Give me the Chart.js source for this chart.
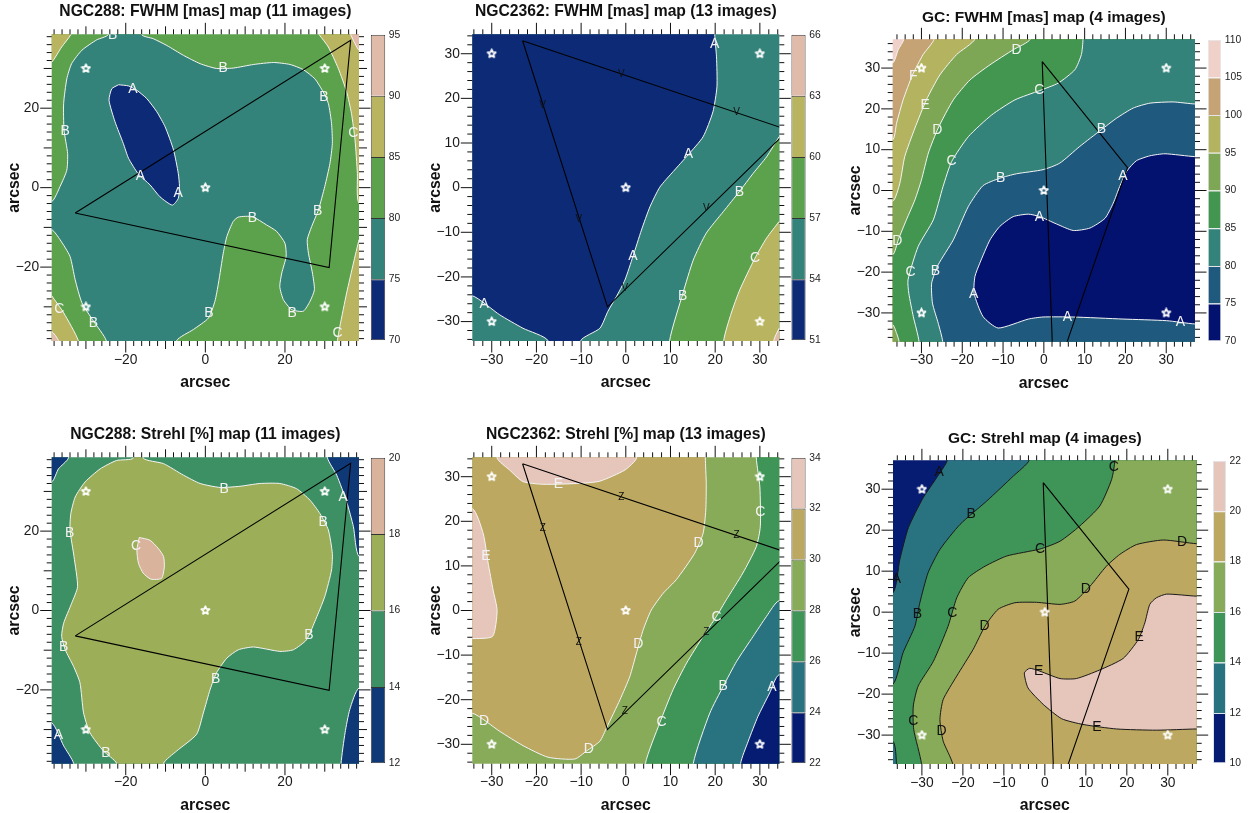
<!DOCTYPE html>
<html>
<head>
<meta charset="utf-8">
<title>FWHM and Strehl maps</title>
<style>
  html, body { margin: 0; background: #fff; overflow: hidden; }
  canvas { position: absolute; }
</style>
<script src="https://cdn.jsdelivr.net/npm/chart.js@4"></script>
</head>
<body>
<script>
// off-plot points (+-45) just close the shapes, the scales clip them away
const fullField = [[-45,-45],[45,-45],[45,45],[-45,45]];

// common
const starX = [-30, 30, -30, 30, 0];
const starY = [30, 30, -30, -30, 0];
const triangle288 = [[-32.7,-6.4],[36.5,37.1],[31.1,-20.1]];
const triangle2362 = [[-23.1,32.9],[36.4,12.9],[-4.1,-26.7]];
const triangleGC = [[-0.4,31.6],[20.5,5.6],[2.4,-46.6]];

// NGC288 FWHM
const fwhm288Levels = [70, 75, 80, 85, 90, 95];
const fwhm288Ticks = [-20, 0, 20];
const fwhm288OliveTL = [[-45,27],[-38.6,31.6],[-36.1,35.4],[-33.8,38.5],[-31,45],[-45,45]];
const fwhm288OliveTR = [[28.6,38.5],[30.9,35.4],[33.4,30],[35.5,24.1],[36.7,18.7],[37.6,12],[38.2,3.6],[38.6,-3.9],[45,-4],[45,45],[28,45]];
const fwhm288OliveBR = [[38.6,-13.1],[37.2,-19],[35.5,-26.5],[33.8,-34.9],[33.2,-38.5],[33,-45],[45,-45],[45,-13]];
const fwhm288OliveBL = [[-38.6,-27.2],[-35.6,-31.5],[-31.9,-38.5],[-31,-45],[-45,-45],[-45,-27]];
const fwhm288PinkTR = [[36.5,38.5],[38.6,34.6],[45,30],[45,45],[36,45]];
const fwhm288PinkBL = [[-45,-33],[-38.6,-36.2],[-36.9,-38.5],[-36,-45],[-45,-45]];
const fwhm288Teal = [[-24,45],[-24.4,38.5],[-27.3,37.2],[-31,34.6],[-33.6,31.2],[-34.8,27.4],[-35.6,21.2],[-35.5,14.5],[-34.6,8.6],[-34.8,4.4],[-36.5,0.3],[-38.6,-3.5],[-45,-3.5],[-45,-10.5],[-38.6,-10.6],[-36.5,-13.1],[-34,-17.3],[-32.7,-23.2],[-31,-29],[-28.1,-33.6],[-24.9,-38.5],[-24.9,-45],[-7.2,-45],[-7.2,-38.5],[-3,-35.7],[0.8,-32.8],[2.4,-28.6],[3.3,-24],[4.5,-16.5],[5.4,-12.3],[7,-8.5],[8.3,-7.4],[11.8,-7.3],[15.4,-9.4],[17.9,-11],[20,-14],[20.3,-17.3],[19.2,-21.5],[18.7,-24.9],[19.6,-28.2],[21.7,-30.7],[24.6,-31.1],[26.3,-28.6],[27.4,-25.7],[26.9,-21.5],[25.9,-16.5],[25.6,-13.1],[26.7,-9.8],[28.4,-5.6],[30,0.3],[31.3,6.1],[31.9,11.1],[31.7,16.2],[30.9,21.2],[29.6,24.1],[27.5,27.4],[24.6,29.7],[21.3,31],[17.1,31.5],[12.1,31],[7,30.1],[2.8,30],[-1.3,31.2],[-5.5,33.3],[-9.7,35.8],[-13.1,37.5],[-16,38.5],[-16,45]];
const fwhm288Navy = [[-21.8,25.9],[-23.5,24.9],[-24.2,22],[-22.7,16.6],[-20.6,11.1],[-19.3,7.4],[-16.8,3.4],[-13.9,0.7],[-11.4,-2.3],[-8.3,-4.4],[-6.8,-2.7],[-6.5,0.3],[-6.8,3.6],[-8,9.5],[-10.1,15.3],[-12.2,19.1],[-14.7,22.4],[-17.2,24.5],[-19.3,25.6]];
const fwhm288Labels = [["B",-23.3,38.3],["B",4.5,30],["B",29.8,22.7],["B",-35.2,14.2],["A",-18.2,24.7],["A",-16.3,2.8],["A",-6.8,-1.4],["C",37.2,13.6],["B",28.2,-5.9],["B",11.8,-7.7],["B",0.9,-31.7],["B",21.8,-31.5],["B",-28.1,-34.1],["C",-36.7,-30.5],["C",33.2,-36.7]];

// NGC2362 FWHM
const fwhm2362Levels = [51, 54, 57, 60, 63, 66];
const fwhm2362Ticks = [-30, -20, -10, 0, 10, 20, 30];
const fwhm2362Navy = [[19.9,45],[19.9,34.3],[20.3,29.3],[20.4,22.6],[19.5,17],[17.3,11.4],[13.9,7.3],[10.6,3.6],[7.6,0.1],[5.4,-4.3],[3.5,-9.5],[1.6,-15.4],[-0.2,-20.7],[-2.1,-24.4],[-4,-27.7],[-5.8,-31.5],[-10.1,-34.3],[-10.1,-45],[-17.4,-45],[-17.4,-34.3],[-23,-31.5],[-28.2,-28.5],[-34.4,-24.2],[-45,-24],[-45,45]];
const fwhm2362Green = [[34.3,11.4],[31.5,6.9],[28.5,3.2],[25.4,-0.9],[21.8,-5.4],[18,-10.2],[15.1,-16.2],[12.8,-23.6],[9.8,-34.3],[9.8,-45],[45,-45],[45,11.4]];
const fwhm2362Olive = [[34.3,-7.6],[31.5,-11.3],[28.9,-15.8],[25.5,-22.9],[23.6,-28.1],[21.9,-34.3],[21.9,-45],[45,-45],[45,-7.6]];
const fwhm2362Pink = [[34.3,-31.5],[33.1,-34.3],[33.1,-45],[45,-45],[45,-31.5]];
const fwhm2362Labels = [["A",19.9,32.1],["A",14,7.5],["A",1.6,-15.4],["A",-31.7,-26.2],["B",25.4,-1],["B",12.7,-24.2],["C",28.9,-15.7]];
const fwhm2362SmallLabels = [["V",-1,25.4],["V",-18.6,18.5],["V",24.8,16.9],["V",-10.5,-7],["V",18,-4.6],["V",-0.2,-22.6]];

// GC FWHM
const fwhmGCLevels = [70, 75, 80, 85, 90, 95, 100, 105, 110];
const fwhmGCTicks = [-30, -20, -10, 0, 10, 20, 30];
const fwhmGCbelow105 = [[-34.3,45],[-34.3,37.1],[-35.7,34.5],[-37.1,31.2],[-45,31.2],[-45,-45],[45,-45],[45,45]];
const fwhmGCbelow100 = [[-26.9,45],[-26.9,37.1],[-29.6,33.3],[-32.2,28.3],[-34.5,22.2],[-36.1,16.5],[-37.1,12.4],[-45,12.4],[-45,-45],[45,-45],[45,45]];
const fwhmGCbelow95 = [[-16.9,45],[-16.9,37.1],[-21.4,33.3],[-25.5,28.3],[-28.8,22.2],[-31.6,15.3],[-34.1,8.3],[-35.3,1.8],[-37.1,-2.7],[-45,-2.7],[-45,-45],[45,-45],[45,45]];
const fwhmGCbelow90 = [[-3.3,45],[-3.3,37.1],[-7.5,34.5],[-13.2,30.8],[-18.1,27.1],[-22.2,22.2],[-25.9,15.3],[-28.3,9.2],[-30,2.6],[-31.6,-2.3],[-33.7,-7.2],[-35.7,-12.1],[-37.1,-15.8],[-45,-16],[-45,-32.9],[-37.1,-32.9],[-36.1,-35],[-35.5,-37],[-35.5,-45],[45,-45],[45,45]];
const fwhmGCbelow85 = [[9.6,45],[9.6,37.1],[9.2,33.3],[7.6,29.6],[3.5,26.3],[-1,24.5],[-7.1,22.2],[-12.8,18.5],[-18.5,13.2],[-22.6,7.1],[-24.7,1],[-27.1,-7.2],[-30.8,-13.7],[-33.3,-21.9],[-33.1,-25.2],[-32,-30.9],[-30.6,-37],[-30.6,-45],[45,-45],[45,45]];
const fwhmGCbelow80 = [[45,21.2],[37,21.2],[31.7,21.7],[26,21.4],[21.9,20.2],[17.8,17.7],[14.1,14.9],[8.8,10.8],[3.9,6.7],[-0.2,5.1],[-6.7,4.1],[-10.8,3],[-14.9,1.2],[-18.5,-3.9],[-22.2,-12.1],[-25.9,-18.2],[-27.5,-22.7],[-27.3,-27.6],[-25.9,-32.5],[-24.8,-37],[-24.8,-45],[45,-45]];
const fwhmGCbelow75 = [[45,8.3],[37,8.3],[29.7,9],[26,8.5],[22.7,7.3],[20.3,4.7],[18.6,1],[17,-3.1],[15,-6.8],[11.3,-9.2],[7.2,-9.8],[3.1,-8.2],[-1,-6.4],[-3.8,-5.8],[-7.5,-6.4],[-10.8,-8.8],[-13.2,-12.1],[-15.7,-17.8],[-16.9,-21.1],[-17.1,-25.2],[-14.9,-30.9],[-11.2,-33.7],[-3.8,-31.5],[-0.2,-31],[7.2,-31],[19.4,-31.5],[30.1,-31.9],[37,-32.7],[45,-32.7]];
const fwhmGCLabels = [["F",-32,28.1],["E",-29.1,20.9],["D",-26.1,14.9],["D",-6.7,34.5],["D",-35.9,-12.3],["C",-1.1,24.5],["C",-22.6,7.3],["C",-32.7,-20],["B",14.1,15.1],["B",-10.6,3],["B",-26.6,-19.7],["A",19.4,3.6],["A",-1.1,-6.5],["A",-17.2,-25.4],["A",5.8,-31.1],["A",33.5,-32.3]];

// NGC288 Strehl
const strehl288Levels = [12, 14, 16, 18, 20];
const strehl288NavyTL = [[-34.4,45],[-34.4,38.4],[-36.9,35.7],[-38.6,32.4],[-45,32.4],[-45,45]];
const strehl288NavyTR = [[30.7,45],[30.7,38.4],[33,34.1],[35.5,27.4],[37.2,21.1],[38.6,13.6],[45,13.6],[45,45]];
const strehl288NavyBR = [[45,-19.5],[38.6,-19.5],[36.3,-24.9],[35.1,-30.8],[34.1,-38.5],[34.1,-45],[45,-45]];
const strehl288NavyBL = [[-45,-28.3],[-38.6,-28.3],[-35.6,-34.1],[-33.1,-38.5],[-33.1,-45],[-45,-45]];
const strehl288Olive = [[-18.1,45],[-18.1,38.4],[-22.3,37.8],[-26.4,35.7],[-30.2,32.4],[-32.7,28.6],[-33.8,24.4],[-34,20.3],[-33,13.6],[-32.1,6],[-33.6,1.8],[-35.6,-3.2],[-36.1,-6.5],[-35.2,-9.9],[-33.1,-14.1],[-31.5,-18.2],[-30.6,-25.8],[-29,-30.8],[-25.6,-35.4],[-22.3,-38.5],[-22.3,-45],[-10.5,-45],[-10.5,-38.5],[-7.2,-35.4],[-2.2,-31.2],[-0.5,-25.8],[1.2,-19.9],[2.8,-15.7],[5.4,-12],[8.3,-9.9],[12.1,-9.2],[18.7,-10.3],[22.1,-9.9],[25.4,-7.4],[27.5,-2.8],[30,3.5],[31.7,10.2],[31.9,14.4],[30.9,20.3],[28.8,24.4],[26.3,27.8],[22.9,30.7],[18.7,32],[13.7,32],[8.7,31.3],[3.7,31],[-1.3,32],[-5.5,34.1],[-10.5,37],[-15.6,38.4],[-15.6,45]];
const strehl288Pink = [[-16.6,18.4],[-13.9,17.7],[-11.8,15.6],[-10.5,13.6],[-10.3,11],[-11,8.1],[-13.7,7.9],[-15.6,9.4],[-16.8,11.9],[-17.2,15.2]];
const strehl288Labels = [["B",4.7,30.7],["B",29.6,22.2],["B",-34.1,19.4],["A",34.6,28.6],["C",-17.4,16.3],["B",26,-6.1],["B",-35.6,-9.3],["B",2.6,-17.4],["A",-36.9,-31.5],["B",-25,-36]];

// NGC2362 Strehl
const strehl2362Levels = [22, 24, 26, 28, 30, 32, 34];
const strehl2362PinkTop = [[-28.8,45],[-28.8,34.2],[-26,31.5],[-23,28.9],[-18.5,28.3],[-10.3,28.5],[-5.8,29],[-0.2,31.5],[2.4,34.2],[2.4,45]];
const strehl2362PinkLeft = [[-45,22.9],[-34.4,22.9],[-31.9,17.2],[-30.8,10.6],[-29.7,4.6],[-28.8,0],[-29.8,-5.8],[-34.4,-6.3],[-45,-6.3]];
const strehl2362Tan = [[17.8,45],[17.8,34.2],[18,28.5],[17.9,22.5],[17.3,17.3],[15.4,12.8],[11.3,6.9],[8.4,3.9],[5.7,0.1],[3.9,-4.3],[2.4,-9.5],[0.9,-14.8],[-1.3,-20],[-4.3,-26.3],[-5.8,-29.3],[-8.8,-31.5],[-11.4,-33.3],[-17.4,-32.9],[-23,-30.3],[-28.2,-27.1],[-34.4,-23],[-45,-23],[-45,45]];
const strehl2362Green = [[29.2,45],[29.2,34.2],[30,27.7],[30.1,18.8],[29.2,14.3],[26.2,8.4],[22.5,2.4],[20.3,-1.3],[17.3,-5.8],[13.6,-11.8],[10.6,-17.7],[7.6,-25.2],[4.4,-34.3],[4.4,-45],[45,-45],[45,45]];
const strehl2362Teal = [[45,2.2],[34.3,2.2],[31.5,-1.3],[28.5,-5.8],[24.8,-11.4],[21.8,-17],[18.8,-23],[15.1,-34.3],[15.1,-45],[45,-45]];
const strehl2362Navy = [[45,-14.4],[34.3,-14.4],[32.2,-18.5],[29.6,-23.7],[27.4,-29.3],[25.7,-34.3],[25.7,-45],[45,-45]];
const strehl2362Labels = [["E",-15.1,28.3],["E",-31.3,12.1],["D",16.3,15.1],["D",2.8,-7.5],["D",-31.7,-24.8],["D",-8.3,-31],["C",30.1,22.1],["C",20.3,-1.5],["C",8,-25],["B",21.8,-17],["A",32.7,-17.2]];
const strehl2362SmallLabels = [["Z",-1,25.3],["Z",-18.6,18.5],["Z",24.8,16.9],["Z",-10.5,-7.2],["Z",18,-4.8],["Z",-0.2,-22.6]];

// GC Strehl
const strehlGCLevels = [10, 12, 14, 16, 18, 20, 22];
const strehlGCabove12 = [[-23.8,45],[-23.8,37.1],[-26.4,32.8],[-29.7,27.9],[-33.3,20.6],[-35.4,12.8],[-37.1,4.7],[-45,4.7],[-45,-45],[45,-45],[45,45]];
const strehlGCabove14 = [[-3.8,45],[-3.8,37.1],[-7.7,33.2],[-14.2,27.1],[-20.7,21.4],[-25.6,15.3],[-28.5,9.6],[-30.5,2.3],[-31.7,-3.4],[-34.6,-9.9],[-37.1,-17.6],[-45,-17.6],[-45,-45],[45,-45],[45,45]];
const strehlGCpocket = [[-45,-31.5],[-37.1,-31.5],[-36.2,-37],[-36.2,-45],[-45,-45]];
const strehlGCabove16 = [[17.1,45],[17.1,37.1],[16.3,32.4],[13.4,25.9],[8.5,21],[3.7,17.3],[-1.2,15.4],[-9.3,13.7],[-14.6,11.2],[-18.7,8.4],[-21.5,3.5],[-23.6,-3.4],[-27.2,-12],[-30.9,-18],[-32.1,-22.9],[-32,-28.6],[-30.1,-37],[-30.1,-45],[45,-45],[45,45]];
const strehlGCabove18 = [[45,16.7],[37,16.7],[28.9,17.6],[22.4,16.5],[18.3,14.1],[15,11.2],[11,6.3],[7.3,2.7],[3.7,1.9],[-2,2.4],[-7.3,2.3],[-11.4,0.7],[-14.6,-3.4],[-17.5,-9.1],[-21.5,-15.6],[-24.8,-21.3],[-25.6,-26.2],[-24.8,-31.5],[-22.5,-37],[-22.5,-45],[45,-45]];
const strehlGCabove20 = [[45,3.9],[37,3.9],[29.7,4.4],[27.2,3.5],[25.6,1.9],[24.4,-2.6],[22.8,-6.7],[19.1,-11.3],[13.4,-14.1],[7.7,-16.2],[3.7,-16.2],[-1.2,-14.4],[-3.7,-13.7],[-5,-14.8],[-4.1,-18.5],[-0.4,-22.5],[4.1,-26],[9.3,-27.4],[17.5,-28.5],[27.2,-28.8],[37,-28.5],[45,-28.5]];
const strehlGCLabels = [["A",-25.8,34.1],["A",-36.2,8.1],["B",-18,24],["B",-31.1,-0.4],["C",16.8,35.4],["C",-1.2,15.4],["C",-22.6,-0.2],["C",-32.1,-26.7],["D",33.5,17.2],["D",10,5.5],["D",-14.7,-3.3],["D",-25.2,-29],["E",23,-6.1],["E",-1.5,-14.4],["E",12.7,-28]];

// colours, low band first
const colorsA = ["#0c2a76", "#33837a", "#5ca24c", "#b8b45f", "#e0bbaa"];
const colorsB = ["#0f3877", "#3d8f64", "#9cae58", "#dab39c"];
const colorsC = ["#061c72", "#297381", "#3f9558", "#87ab58", "#bca860", "#e6c6bb"];
const colorsD = ["#04126f", "#1f597e", "#33837a", "#42964f", "#7da655", "#b4b35f", "#c6a374", "#efd1ca"];

const panels = [
  { title: "NGC288: FWHM [mas] map (11 images)", fs: 15.7, gap: 12.9,
    box: [51.7, 359, 34.3, 341], key: [370.7, 385.3, 34.3, 341], limit: 38.6, tickLimit: 38, ticks: fwhm288Ticks,
    medium: true, levels: fwhm288Levels, colors: colorsA, ink: "#fff", keyLine: "#333", triangle: triangle288,
    layers: [[2, fullField], [3, fwhm288OliveTL], [3, fwhm288OliveTR], [3, fwhm288OliveBR], [3, fwhm288OliveBL],
      [4, fwhm288PinkTR], [4, fwhm288PinkBL], [1, fwhm288Teal], [0, fwhm288Navy]],
    labels: fwhm288Labels, small: [] },
  { title: "NGC2362: FWHM [mas] map (13 images)", fs: 15.7, gap: 12.9,
    box: [472.3, 779.3, 34.3, 341], key: [791.3, 805.7, 34.3, 341], limit: 34.35, tickLimit: 34, ticks: fwhm2362Ticks,
    levels: fwhm2362Levels, colors: colorsA, ink: "#fff", keyLine: "#333", triangle: triangle2362,
    layers: [[1, fullField], [0, fwhm2362Navy], [2, fwhm2362Green], [3, fwhm2362Olive], [4, fwhm2362Pink]],
    labels: fwhm2362Labels, small: fwhm2362SmallLabels },
  { title: "GC: FWHM [mas] map (4 images)", fs: 15.5, gap: 12.3,
    box: [892.7, 1195, 39.3, 341.7], key: [1207.7, 1221.3, 39.3, 341.7], limit: 37.05, tickLimit: 36, ticks: fwhmGCTicks,
    levels: fwhmGCLevels, colors: colorsD, ink: "#fff", keyLine: "#e4e4ea", triangle: triangleGC,
    layers: [[7, fullField], [6, fwhmGCbelow105], [5, fwhmGCbelow100], [4, fwhmGCbelow95], [3, fwhmGCbelow90],
      [2, fwhmGCbelow85], [1, fwhmGCbelow80], [0, fwhmGCbelow75]],
    labels: fwhmGCLabels, small: [] },
  { title: "NGC288: Strehl [%] map (11 images)", fs: 15.7, gap: 13,
    box: [51.7, 359, 457.3, 763.7], key: [370.7, 385.3, 457.3, 763.7], limit: 38.6, tickLimit: 38, ticks: fwhm288Ticks,
    medium: true, levels: strehl288Levels, colors: colorsB, ink: "#fff", keyLine: "#333", triangle: triangle288,
    layers: [[1, fullField], [0, strehl288NavyTL], [0, strehl288NavyTR], [0, strehl288NavyBR], [0, strehl288NavyBL],
      [2, strehl288Olive], [3, strehl288Pink]],
    labels: strehl288Labels, small: [] },
  { title: "NGC2362: Strehl [%] map (13 images)", fs: 15.7, gap: 13,
    box: [472.3, 779.3, 457.3, 763.7], key: [791.3, 805.7, 457.3, 763.7], limit: 34.35, tickLimit: 34, ticks: fwhm2362Ticks,
    levels: strehl2362Levels, colors: colorsC, ink: "#fff", keyLine: "#333", triangle: triangle2362,
    layers: [[3, fullField], [4, strehl2362Tan], [5, strehl2362PinkTop], [5, strehl2362PinkLeft],
      [2, strehl2362Green], [1, strehl2362Teal], [0, strehl2362Navy]],
    labels: strehl2362Labels, small: strehl2362SmallLabels },
  { title: "GC: Strehl map (4 images)", fs: 15.5, gap: 12.3,
    box: [893, 1196.7, 460.3, 764], key: [1213, 1226, 460.7, 763.7], limit: 37.05, tickLimit: 36, ticks: fwhmGCTicks,
    levels: strehlGCLevels, colors: colorsC, ink: "#111", keyLine: "#dfe3ea", triangle: triangleGC,
    layers: [[0, fullField], [1, strehlGCabove12], [2, strehlGCabove14], [1, strehlGCpocket], [3, strehlGCabove16],
      [4, strehlGCabove18], [5, strehlGCabove20]],
    labels: strehlGCLabels, small: [] },
];

Chart.defaults.font.family = '"Liberation Sans", Arial, sans-serif';
Chart.defaults.color = "#1a1a1a";
Chart.defaults.animation = false;

const minus = v => String(v).replace("-", "\u2212");
const toPoints = list => list.map(p => ({ x: p[0], y: p[1] }));

function addCanvas(left, top, width, height) {
  const c = document.createElement("canvas");
  c.width = width;
  c.height = height;
  c.style.left = left + "px";
  c.style.top = top + "px";
  document.body.appendChild(c);
  return c;
}

// open white star, same for all the panels
const starImage = document.createElement("canvas");
starImage.width = starImage.height = 11;
(function () {
  const g = starImage.getContext("2d");
  g.strokeStyle = "#fff";
  g.lineWidth = 1.8;
  g.lineJoin = "round";
  g.beginPath();
  for (let i = 0; i < 10; i++) {
    const r = i % 2 ? 1.9 : 4.2;
    const a = -Math.PI / 2 + (i * Math.PI) / 5;
    g.lineTo(5.5 + r * Math.cos(a), 5.5 + r * Math.sin(a));
  }
  g.closePath();
  g.stroke();
})();

// lattice style ticks on the four sides + contour letters
function panelPlugin(panel) {
  return {
    id: "panelExtras",
    afterDatasetsDraw(chart) {
      const { ctx, chartArea: a, scales: { x, y } } = chart;
      const tickLen = v => {
        if (panel.ticks.includes(v)) return 11.5;
        if (panel.medium && v % 10 === 0) return 8;
        return 5;
      };
      ctx.save();
      ctx.strokeStyle = "#111";
      ctx.lineWidth = 1;
      ctx.beginPath();
      for (let v = -panel.tickLimit; v <= panel.tickLimit; v += 2) {
        const px = x.getPixelForValue(v), py = y.getPixelForValue(v), len = tickLen(v);
        ctx.moveTo(px, a.bottom); ctx.lineTo(px, a.bottom + len);
        ctx.moveTo(px, a.top); ctx.lineTo(px, a.top - len);
        ctx.moveTo(a.left, py); ctx.lineTo(a.left - len, py);
        ctx.moveTo(a.right, py); ctx.lineTo(a.right + len, py);
      }
      ctx.stroke();

      ctx.beginPath();
      ctx.rect(a.left, a.top, a.right - a.left, a.bottom - a.top);
      ctx.clip();
      ctx.textAlign = "center";
      ctx.textBaseline = "middle";
      ctx.fillStyle = panel.ink === "#fff" ? "#f2f2f2" : panel.ink;
      ctx.font = '14px "Liberation Sans", Arial, sans-serif';
      panel.labels.forEach(l => ctx.fillText(l[0], x.getPixelForValue(l[1]), y.getPixelForValue(l[2])));
      ctx.fillStyle = "#111";
      ctx.font = '10px "Liberation Sans", Arial, sans-serif';
      panel.small.forEach(l => ctx.fillText(l[0], x.getPixelForValue(l[1]), y.getPixelForValue(l[2])));
      ctx.restore();
    },
  };
}

function drawPanel(panel) {
  const [pl, pr, pt, pb] = panel.box;
  const cx = Math.floor(pl) - 50, cy = Math.floor(pt) - 38;
  const cw = Math.ceil(pr) + 16 - cx, ch = Math.ceil(pb) + 52 - cy;
  const titleH = panel.fs * 1.2 + panel.gap;
  const canvas = addCanvas(cx, cy, cw, ch);

  // painted bottom to top, chart.js draws the first dataset last
  const datasets = [];
  panel.layers.forEach(([band, outline], i) => {
    const pts = toPoints(outline);
    pts.push(pts[0]);
    datasets.push({
      data: pts,
      showLine: true,
      fill: "shape",
      backgroundColor: panel.colors[band],
      borderColor: i === 0 ? panel.colors[band] : (panel.ink === "#fff" ? "#f4f4f4" : "#1a1a1a"),
      borderWidth: 1,
      pointRadius: 0,
      tension: 0.2,
      capBezierPoints: false,
    });
  });
  const tri = toPoints(panel.triangle);
  tri.push(tri[0]);
  datasets.push({ data: tri, showLine: true, fill: false, borderColor: "#000", borderWidth: 1.1, pointRadius: 0 });
  datasets.push({
    data: starX.map((x, i) => ({ x, y: starY[i] })),
    pointStyle: starImage,
    pointRadius: 5,
    showLine: false,
  });
  datasets.reverse();

  const axis = (text, isX) => ({
    type: "linear",
    min: -panel.limit,
    max: panel.limit,
    grid: { display: false, drawTicks: false },
    border: { display: false },
    afterBuildTicks: s => { s.ticks = panel.ticks.map(value => ({ value })); },
    afterFit: s => { if (isX) s.height = 52; else s.width = 50; },
    ticks: {
      autoSkip: false,
      maxRotation: 0,
      padding: isX ? 10.5 : 12.5,
      color: "#1a1a1a",
      font: { size: 13.8 },
      callback: minus,
    },
    title: {
      display: true,
      text,
      color: "#111",
      font: { size: 15.8, weight: "bold" },
      padding: isX ? { top: 0, bottom: 1 } : { top: 3.5, bottom: 0 },
    },
  });

  new Chart(canvas, {
    type: "scatter",
    data: { datasets },
    options: {
      responsive: false,
      layout: {
        padding: {
          left: pl - cx - 50,
          right: cx + cw - pr,
          top: pt - cy - titleH,
          bottom: cy + ch - pb - 52,
        },
      },
      plugins: {
        legend: { display: false },
        tooltip: { enabled: false },
        filler: { drawTime: "beforeDatasetDraw" },
        title: {
          display: true,
          text: panel.title,
          fullSize: false,
          color: "#111",
          font: { size: panel.fs, weight: "bold" },
          padding: { top: 0, bottom: panel.gap },
        },
      },
      scales: { x: axis("arcsec", true), y: axis("arcsec", false) },
    },
    plugins: [panelPlugin(panel)],
  });
}

// colour key on the right of each panel, one floating bar per band
function drawKey(panel) {
  const [kl, kr, kt, kb] = panel.key;
  const cx = Math.floor(kl), cy = Math.floor(kt) - 9;
  const cw = Math.ceil(kr) + 32 - cx, ch = Math.ceil(kb) + 9 - cy;
  const canvas = addCanvas(cx, cy, cw, ch);
  const lv = panel.levels;
  const datasets = panel.colors.slice(0, lv.length - 1).map((color, i) => ({
    data: [[lv[i], lv[i + 1]]],
    grouped: false,
    barPercentage: 1,
    categoryPercentage: 1,
    backgroundColor: color,
    borderColor: panel.keyLine,
    borderSkipped: false,
    inflateAmount: 0,
    borderWidth: { top: 1, left: 1, right: 1, bottom: i === 0 ? 1 : 0 },
  }));
  new Chart(canvas, {
    type: "bar",
    data: { labels: ["key"], datasets },
    options: {
      responsive: false,
      layout: { padding: { left: kl - cx, top: kt - cy, bottom: cy + ch - kb, right: cx + cw - kr - 32 } },
      plugins: { legend: { display: false }, tooltip: { enabled: false } },
      scales: {
        x: { display: false },
        y: {
          position: "right",
          min: lv[0],
          max: lv[lv.length - 1],
          grid: { display: false, drawTicks: false },
          border: { display: false },
          afterBuildTicks: s => { s.ticks = lv.map(value => ({ value })); },
          afterFit: s => { s.width = 32; },
          ticks: { autoSkip: false, padding: 3.5, color: "#222", font: { size: 10.3 } },
        },
      },
    },
  });
}

panels.forEach(p => {
  drawPanel(p);
  drawKey(p);
});
</script>
</body>
</html>
